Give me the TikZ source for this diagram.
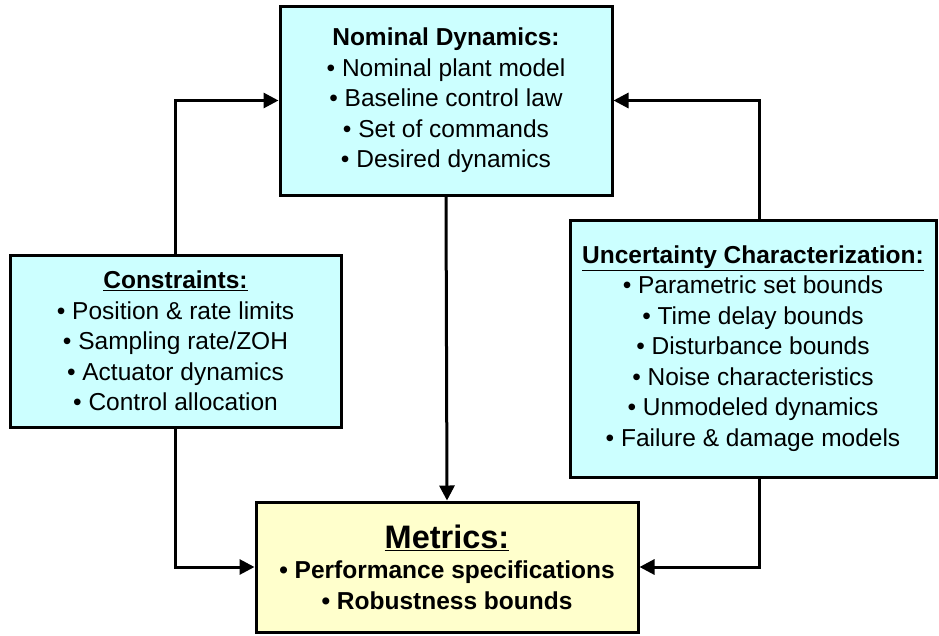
\documentclass[tikz,border=0pt]{standalone}
\usepackage{fontspec}
\setmainfont{Liberation Sans}
\usetikzlibrary{arrows.meta}
\definecolor{boxcyan}{HTML}{CCFFFF}
\definecolor{boxyellow}{HTML}{FFFFCC}
\begin{document}
\begin{tikzpicture}[x=1pt,y=-1pt,
	block/.style={draw,line width=3pt,align=center,inner sep=0pt,font=\fontsize{24.5}{30.5}\selectfont},
	flow/.style={line width=3pt,-{Triangle[length=15pt,width=15pt]}}]
		\useasboundingbox (0,0) rectangle (939,635);
		\node[block,fill=boxcyan,minimum width=332,minimum height=189] (nom) at (446,100.5)
		{\textbf{Nominal Dynamics:}\\\textbullet{} Nominal plant model\\\textbullet{} Baseline control law\\\textbullet{} Set of commands\\\textbullet{} Desired dynamics};
		\node[block,fill=boxcyan,minimum width=331,minimum height=172] (con) at (175.5,341)
		{\underline{\textbf{Constraints:}}\\\textbullet{} Position \& rate limits\\\textbullet{} Sampling rate/ZOH\\\textbullet{} Actuator dynamics\\\textbullet{} Control allocation};
		\node[block,fill=boxcyan,minimum width=366,minimum height=257] (unc) at (753,348.5)
		{\underline{\textbf{Uncertainty Characterization:}}\\\textbullet{} Parametric set bounds\\\textbullet{} Time delay bounds\\\textbullet{} Disturbance bounds\\\textbullet{} Noise characteristics\\\textbullet{} Unmodeled dynamics\\\textbullet{} Failure \& damage models};
		\node[block,fill=boxyellow,minimum width=382,minimum height=130] (met) at (447,567)
		{{\fontsize{32.5}{36}\selectfont\underline{\textbf{Metrics:}}}\\\textbf{\textbullet{} Performance specifications}\\\textbf{\textbullet{} Robustness bounds}};
		%connectors
		\draw[flow] (con.north) |- (nom.west);
		\draw[flow] (con.south) |- (met.west);
		\draw[flow] (nom.south) -- (met.north);
		\draw[flow] ([xshift=6]unc.north) |- (nom.east);
		\draw[flow] ([xshift=6]unc.south) |- (met.east);
\end{tikzpicture}
\end{document}
